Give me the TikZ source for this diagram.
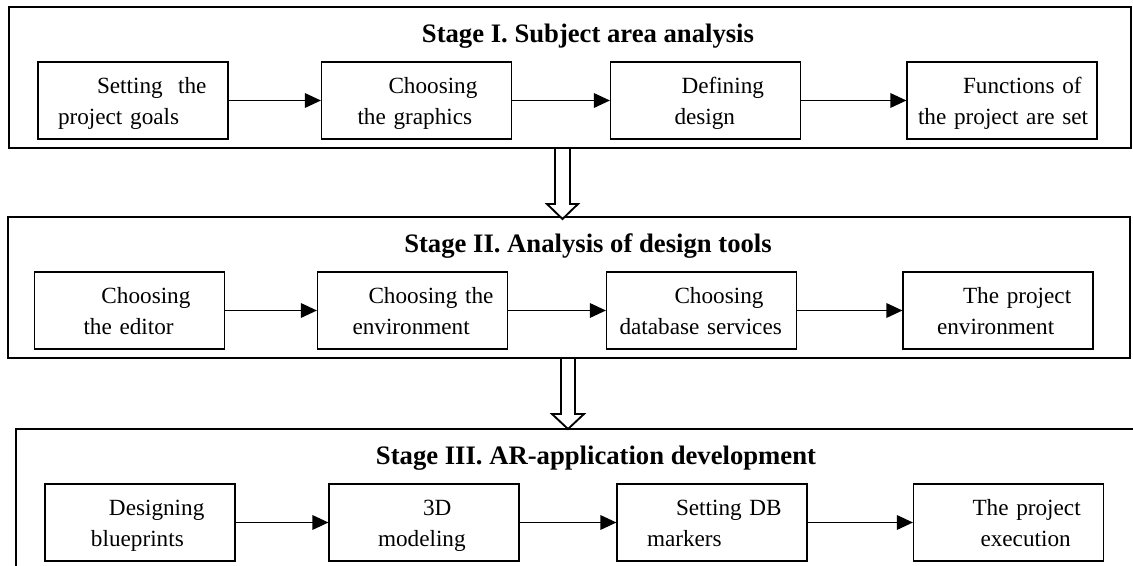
\documentclass[tikz,border=0pt]{standalone}
\usepackage{fontspec}
\setmainfont{Liberation Serif}
\usetikzlibrary{arrows.meta}
\newdimen\pxu \pxu=0.75pt
\newcommand{\twol}[4]{\rule{0pt}{18.5pt}\hspace*{#1\pxu}#2\\\hspace*{#3\pxu}#4\rule[-5pt]{0pt}{5pt}}
\setlength{\parindent}{0pt}
\begin{document}
\begin{tikzpicture}[x=0.75pt,y=-0.75pt,
  stage/.style={draw, line width=0.9pt, inner sep=0pt, rectangle},
  box/.style={draw, line width=0.9pt, inner sep=0pt, text width=142.5pt, minimum height=57.75pt, align=left, font=\fontsize{17.4}{23.25}\selectfont},
  title/.style={font=\bfseries\fontsize{20}{24}\selectfont, anchor=base, inner sep=0pt},
  flow/.style={line width=0.9pt, -{Triangle[length=12pt,width=11pt]}},
  hollow/.style={draw, fill=white, line width=1.4pt, line join=miter}]
\useasboundingbox (0,0) rectangle (1133,566);
\clip (0,0) rectangle (1133,566);
% stage frames
\node[stage, minimum width=841.5pt, minimum height=105.75pt] (s1) at (570,77.5) {};
\node[stage, minimum width=841.5pt, minimum height=105.75pt] (s2) at (569,287.5) {};
\node[stage, minimum width=858pt, minimum height=143.25pt] (s3) at (588,524.5) {};
% titles
\node[title] (t1) at (588,43) {Stage I. Subject area analysis};
\node[title] (t2) at (588,253) {Stage II. Analysis of design tools};
\node[title] (t3) at (596,465) {Stage III. AR-application development};
% stage I boxes
\node[box] (a1) at (133,100.5) {\twol{59}{Setting\ \ the}{20}{project goals}};
\node[box] (a2) at (416.5,100.5) {\twol{67}{Choosing}{36}{the graphics}};
\node[box] (a3) at (705.5,100.5) {\twol{71}{Defining}{64}{design}};
\node[box] (a4) at (1002,100.5) {\twol{56}{Functions of}{11}{the project are set}};
\draw[flow] (a1) -- (a2);
\draw[flow] (a2) -- (a3);
\draw[flow] (a3) -- (a4);
% stage II boxes
\node[box] (b1) at (129.5,310.5) {\twol{67}{Choosing}{49}{the editor}};
\node[box] (b2) at (412.5,310.5) {\twol{51}{Choosing the}{35}{environment}};
\node[box] (b3) at (701.5,310.5) {\twol{68}{Choosing}{13}{database services}};
\node[box] (b4) at (998,310.5) {\twol{60}{The project}{34}{environment}};
\draw[flow] (b1) -- (b2);
\draw[flow] (b2) -- (b3);
\draw[flow] (b3) -- (b4);
% stage III boxes
\node[box] (c1) at (140,522.5) {\twol{64}{Designing}{46}{blueprints}};
\node[box] (c2) at (424,522.5) {\twol{94}{3D}{49}{modeling}};
\node[box] (c3) at (712,522.5) {\twol{59}{Setting DB}{30}{markers}};
\node[box] (c4) at (1008.5,522.5) {\twol{59}{The project}{67}{execution}};
\draw[flow] (c1) -- (c2);
\draw[flow] (c2) -- (c3);
\draw[flow] (c3) -- (c4);
% hollow arrows between stages
\draw[hollow] (555,148) -- (570,148) -- (570,204) -- (578,204) -- (562.5,219) -- (547,204) -- (555,204) -- cycle;
\draw[hollow] (561,358) -- (575,358) -- (575,414) -- (584,414) -- (568,429) -- (552,414) -- (561,414) -- cycle;
\end{tikzpicture}
\end{document}
